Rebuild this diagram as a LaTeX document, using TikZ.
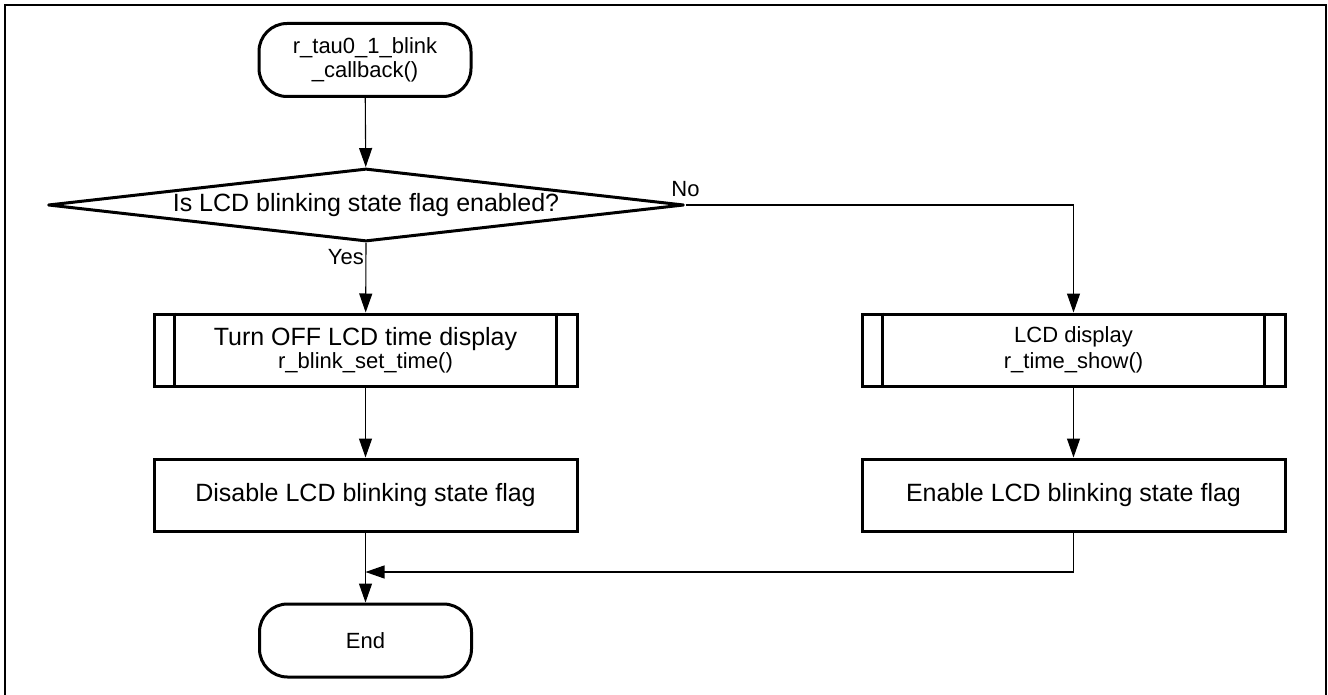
\documentclass[tikz,border=0pt]{standalone}
\usepackage{fontspec}
\setmainfont{Liberation Sans}
\usetikzlibrary{arrows.meta,shapes.geometric}

\newcommand{\bigtxt}{\fontsize{25}{23}\selectfont}
\newcommand{\smalltxt}{\fontsize{22}{24}\selectfont}

\tikzset{
  boxline/.style={draw=black, line width=3pt},
  terminal/.style={boxline, rectangle, rounded corners=28pt, minimum width=212pt,
    minimum height=73pt, inner sep=0pt, align=center, font=\smalltxt},
  procbox/.style={boxline, rectangle, minimum width=423pt, minimum height=72pt,
    inner sep=0pt, align=center, font=\bigtxt},
  decision/.style={boxline, line join=round, diamond, aspect=8.6, minimum width=636pt,
    minimum height=73pt, inner sep=0pt, font=\bigtxt},
  flow/.style={line width=1.1pt, -{Triangle[length=19pt,width=13pt]}},
  lbl/.style={font=\smalltxt, inner sep=0pt},
  frameline/.style={line width=2.2pt}
}

\begin{document}
\begin{tikzpicture}[x=1pt, y=-1pt]
  \useasboundingbox (0,0) rectangle (1328,695);

  % page frame, open at the bottom
  \draw[frameline] (5,695) -- (5,5) -- (1326,5) -- (1326,695);

  % start
  \node[terminal] (start) at (365,60) {r\_tau0\_1\_blink\\\_callback()};

  % decision
  \node[decision] (dec) at (366,205) {Is LCD blinking state flag enabled?};

  % left branch
  \node[procbox] (sub1) at (365.5,350)
    {Turn OFF LCD time display\\{\fontsize{22}{23}\selectfont r\_blink\_set\_time()}};
  \node[procbox] (proc1) at (365.5,495) {Disable LCD blinking state flag};

  % right branch
  \node[procbox, font=\fontsize{22}{26}\selectfont] (sub2) at (1073.5,350)
    {LCD display\\r\_time\_show()};
  \node[procbox] (proc2) at (1073.5,495) {Enable LCD blinking state flag};

  % end
  \node[terminal] (end) at (365.5,640.5) {End};

  % side bars of the predefined-process boxes
  \foreach \n in {sub1,sub2}{
    \draw[boxline] ([xshift=22pt]\n.north west) -- ([xshift=22pt]\n.south west);
    \draw[boxline] ([xshift=-22pt]\n.north east) -- ([xshift=-22pt]\n.south east);
  }

  % branch labels
  \node[lbl, anchor=base] (nolbl) at ([yshift=8pt]dec.east) {No};
  \node[lbl, anchor=base east] (yeslbl) at ([xshift=-2pt,yshift=-21pt]dec.south) {Yes};

  % connectors
  \coordinate (join) at (365.5,572);
  \draw[flow] (start) -- (dec);
  \draw[flow] (dec.south) -- (sub1);
  \draw[flow] (dec.east) -| (sub2);
  \draw[flow] (sub1) -- (proc1);
  \draw[flow] (sub2) -- (proc2);
  \draw[flow] (proc1) -- (end);
  \draw[flow] (proc2.south) |- (join);
\end{tikzpicture}
\end{document}
